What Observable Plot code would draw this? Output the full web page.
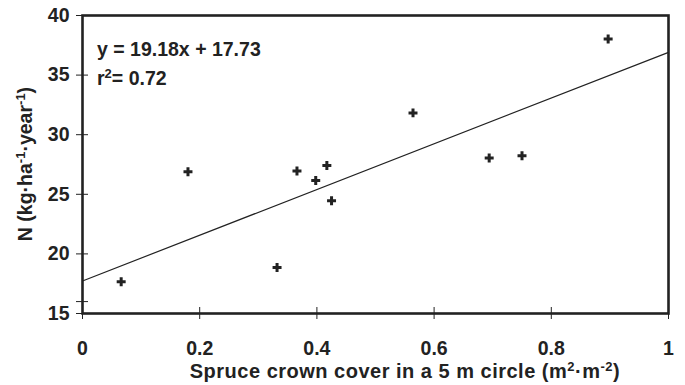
<!DOCTYPE html>
<html>
<head>
<meta charset="utf-8">
<script src="https://cdn.jsdelivr.net/npm/d3@7"></script>
<script src="https://cdn.jsdelivr.net/npm/@observablehq/plot@0.6"></script>
<style>
  html, body { margin: 0; padding: 0; background: #fff; }
  #chart svg { display: block; }
  #chart svg text { font-family: "Liberation Sans", Arial, sans-serif !important; font-weight: 700 !important; }
  #chart svg g[aria-label="y-axis tick label"] text,
  #chart svg g[aria-label="x-axis tick label"] text { font-size: 19.5px !important; }
</style>
</head>
<body>
<div id="chart"></div>
<script>
// Spruce crown cover (m²·m⁻²) and N deposition (kg·ha⁻¹·year⁻¹)
const coverX = [0.066, 0.180, 0.332, 0.366, 0.398, 0.417, 0.425, 0.564, 0.694, 0.750, 0.897];
const nY     = [17.66, 26.89, 18.86, 26.95, 26.16, 27.42, 24.45, 31.83, 28.04, 28.23, 38.02];
const slope = 19.18;
const intercept = 17.73;
const xTicks = [0, 0.2, 0.4, 0.6, 0.8, 1];
const yTicks = [15, 16, 20, 25, 30, 35, 40];
const yLabelTicks = [15, 20, 25, 30, 35, 40];

const points = coverX.map((x, i) => ({x, y: nY[i]}));
const fit = [0, 1].map(x => ({x, y: slope * x + intercept}));

const ink = "#222";
const font = "Liberation Sans, Arial, sans-serif";

const plot = Plot.plot({
  width: 685,
  height: 385,
  marginLeft: 82,
  marginRight: 17,
  marginTop: 15,
  marginBottom: 72,
  style: {fontFamily: font, fontSize: "19.5px", fontWeight: "bold", color: ink, background: "#fff"},
  x: {domain: [0, 1]},
  y: {domain: [15, 40]},
  marks: [
    Plot.line(fit, {x: "x", y: "y", stroke: ink, strokeWidth: 1.2}),
    Plot.dot(points, {x: "x", y: "y", symbol: "plus", r: 3.0, stroke: ink, strokeWidth: 3, fill: "none"}),
    Plot.axisY({ticks: yTicks, tickSize: 6, tickPadding: 7, stroke: ink, strokeWidth: 1,
      tickFormat: d => yLabelTicks.includes(d) ? String(d) : "", label: null, fill: ink}),
    Plot.axisY({ticks: yTicks, tickSize: 6, text: null, label: null, dx: 6, stroke: ink, strokeWidth: 1}),
    Plot.axisX({ticks: xTicks, tickSize: 6, tickPadding: 22, stroke: ink, strokeWidth: 1,
      tickFormat: d => String(d), label: null, fill: ink}),
    Plot.axisX({ticks: xTicks, tickSize: 6, text: null, label: null, dy: -6, stroke: ink, strokeWidth: 1}),
    Plot.frame({stroke: ink, strokeWidth: 2.6})
  ]
});

document.getElementById("chart").appendChild(plot);

const svg = d3.select(plot);
const sup = (t, s, size) => { t.append("tspan").attr("font-size", size).attr("dy", -7).text(s); };
const addText = (size) => svg.append("text").attr("font-family", font).attr("font-weight", "bold")
  .attr("font-size", size).attr("fill", ink);

// equation annotation
addText(19.5).attr("text-anchor", "start").attr("x", 97).attr("y", 56).text("y = 19.18x + 17.73");
const r2 = addText(19.5).attr("text-anchor", "start").attr("x", 97).attr("y", 85);
r2.append("tspan").text("r");
sup(r2, "2", 13);
r2.append("tspan").attr("dy", 7).text("= 0.72");

// x axis title
const xt = addText(20).attr("text-anchor", "middle").attr("letter-spacing", 0.5).attr("x", 405).attr("y", 378);
xt.append("tspan").text("Spruce crown cover in a 5 m circle (m");
sup(xt, "2", 13);
xt.append("tspan").attr("dy", 7).text("·m");
sup(xt, "-2", 13);
xt.append("tspan").attr("dy", 7).text(")");

// y axis title
const yt = addText(19.5).attr("text-anchor", "middle").attr("transform", "translate(32,164) rotate(-90)");
yt.append("tspan").text("N (kg·ha");
sup(yt, "-1", 13);
yt.append("tspan").attr("dy", 7).text("·year");
sup(yt, "-1", 13);
yt.append("tspan").attr("dy", 7).text(")");
</script>
</body>
</html>
